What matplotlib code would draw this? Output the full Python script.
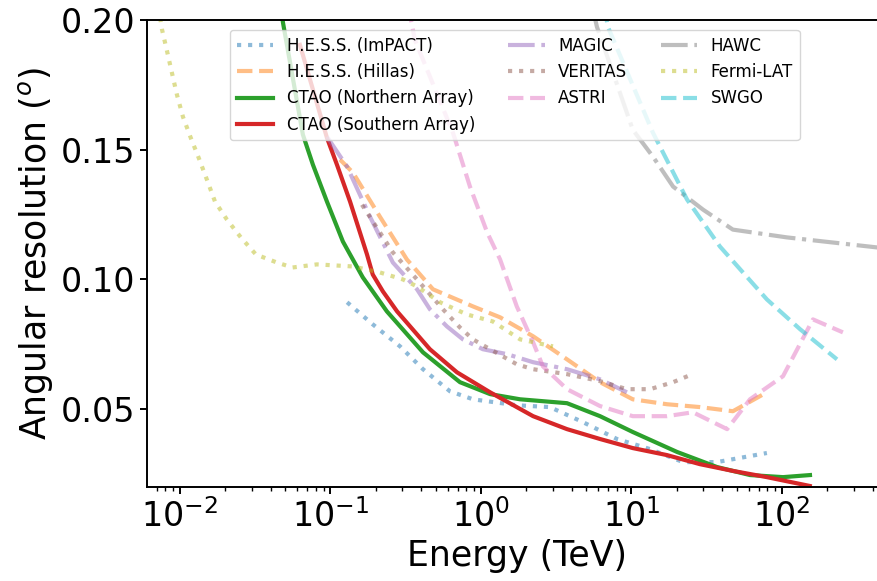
import matplotlib
matplotlib.use("Agg")
import matplotlib.pyplot as plt

# Energy (TeV) and angular resolution (deg) for each instrument
hess_impact_e = [0.129, 0.191, 0.290, 0.412, 0.622, 0.885, 1.73, 2.87, 4.76, 8.01, 13.3, 22.0, 37.0, 79.4]
hess_impact_r = [0.0912, 0.0827, 0.0742, 0.0654, 0.0569, 0.0538, 0.0515, 0.0508, 0.0450, 0.0385, 0.0346, 0.0296, 0.0296, 0.0331]

hess_hillas_e = [0.1157, 0.141, 0.213, 0.322, 0.480, 0.885, 1.34, 2.22, 3.73, 6.18, 10.2, 17.2, 28.5, 47.2, 79.4]
hess_hillas_r = [0.1462, 0.1412, 0.1242, 0.1077, 0.0962, 0.0896, 0.0854, 0.0781, 0.0692, 0.0604, 0.0538, 0.0519, 0.0508, 0.0492, 0.0565]

ctao_north_e = [0.046, 0.0483, 0.0656, 0.0765, 0.0948, 0.121, 0.164, 0.237, 0.412, 0.725, 1.15, 1.82, 3.73, 6.18, 10.2, 20.1, 37.0, 61.3, 101.6, 153.5]
ctao_north_r = [0.210, 0.1992, 0.1558, 0.1442, 0.130, 0.1146, 0.1008, 0.0877, 0.0719, 0.0604, 0.0558, 0.0538, 0.0523, 0.0473, 0.0412, 0.0335, 0.0277, 0.0246, 0.0238, 0.0246]

ctao_south_e = [0.0627, 0.0948, 0.1105, 0.135, 0.175, 0.191, 0.223, 0.277, 0.458, 0.693, 1.15, 2.22, 3.73, 6.18, 10.2, 17.2, 28.5, 47.2, 79.4, 153.0]
ctao_south_r = [0.1904, 0.1546, 0.1442, 0.130, 0.1096, 0.1019, 0.0954, 0.0877, 0.0731, 0.0642, 0.0565, 0.0473, 0.0423, 0.0385, 0.0350, 0.0323, 0.0288, 0.0262, 0.0238, 0.0204]

magic_e = [0.0948, 0.129, 0.183, 0.260, 0.376, 0.458, 0.594, 0.759, 1.03, 1.49, 2.22, 3.73, 6.18, 9.33]
magic_r = [0.155, 0.1435, 0.1242, 0.1065, 0.0962, 0.0885, 0.0819, 0.0769, 0.0731, 0.0712, 0.0681, 0.0654, 0.0615, 0.0565]

veritas_e = [0.162, 0.260, 0.376, 0.559, 0.725, 0.885, 1.15, 1.73, 2.22, 3.73, 6.18, 9.33, 13.3, 18.9, 24.5]
veritas_r = [0.1288, 0.1104, 0.100, 0.0885, 0.0815, 0.0769, 0.0731, 0.0673, 0.0654, 0.0635, 0.0608, 0.0577, 0.0577, 0.0604, 0.0631]

astri_e = [0.33, 0.364, 0.652, 0.845, 1.10, 1.34, 1.73, 2.22, 2.58, 3.73, 6.18, 10.2, 17.2, 25.6, 43.2, 61.3, 101.6, 160.7, 254.0]
astri_r = [0.205, 0.1923, 0.1565, 0.1358, 0.1181, 0.1077, 0.0896, 0.0758, 0.0665, 0.0577, 0.0512, 0.0473, 0.0473, 0.0488, 0.0423, 0.0538, 0.0627, 0.0846, 0.0796]

hawc_e = [5.5, 5.90, 8.39, 10.2, 13.9, 18.9, 29.9, 47.2, 108.0, 434.0, 600.0]
hawc_r = [0.205, 0.1973, 0.1719, 0.1577, 0.1473, 0.1358, 0.1269, 0.1192, 0.1162, 0.1123, 0.1110]

fermi_e = [0.0072, 0.00759, 0.00820, 0.00885, 0.00955, 0.01047, 0.0118, 0.0134, 0.0151, 0.0171, 0.0205, 0.0254,
           0.0320, 0.0442, 0.0560, 0.0813, 0.141, 0.213, 0.303, 0.376, 0.535, 0.807, 1.20, 1.82, 3.01]
fermi_r = [0.205, 0.1965, 0.1881, 0.1796, 0.1712, 0.1627, 0.1546, 0.1465, 0.1385, 0.130, 0.1231, 0.1162,
           0.1096, 0.1065, 0.1046, 0.1058, 0.105, 0.1027, 0.100, 0.0973, 0.0912, 0.0865, 0.0838, 0.0769, 0.0742]

swgo_e = [6.6, 6.98, 13.9, 23.4, 38.7, 79.4, 132.0, 232.0]
swgo_r = [0.205, 0.1973, 0.1565, 0.1308, 0.1127, 0.0923, 0.0808, 0.0692]

fig = plt.figure(figsize=(8.78, 5.81), dpi=100)
ax = fig.add_axes([0.1674, 0.1618, 0.8429, 0.8038])

faint = dict(lw=3, alpha=0.5)
ax.plot(hess_impact_e, hess_impact_r, ':', color='tab:blue', label='H.E.S.S. (ImPACT)', **faint)
ax.plot(hess_hillas_e, hess_hillas_r, '--', color='tab:orange', label='H.E.S.S. (Hillas)', **faint)
ax.plot(ctao_north_e, ctao_north_r, '-', color='tab:green', lw=3, label='CTAO (Northern Array)')
ax.plot(ctao_south_e, ctao_south_r, '-', color='tab:red', lw=3, label='CTAO (Southern Array)')
ax.plot(magic_e, magic_r, '-.', color='tab:purple', label='MAGIC', **faint)
ax.plot(veritas_e, veritas_r, ':', color='tab:brown', label='VERITAS', **faint)
ax.plot(astri_e, astri_r, '--', color='tab:pink', label='ASTRI', **faint)
ax.plot(hawc_e, hawc_r, '-.', color='tab:gray', label='HAWC', **faint)
ax.plot(fermi_e, fermi_r, ':', color='tab:olive', label='Fermi-LAT', **faint)
ax.plot(swgo_e, swgo_r, '--', color='tab:cyan', label='SWGO', **faint)

ax.set_xscale('log')
ax.set_xlim(0.00604, 499)
ax.set_ylim(0.02, 0.20)
ax.set_yticks([0.05, 0.10, 0.15, 0.20])
ax.set_yticklabels(['0.05', '0.10', '0.15', '0.20'])

for s in ax.spines.values():
    s.set_linewidth(1.4)
ax.tick_params(axis='both', which='major', labelsize=24, length=5, width=1.4)
ax.tick_params(axis='x', which='minor', length=3, width=1.0)

ax.set_xlabel('Energy (TeV)', fontsize=25)
ax.set_ylabel(r'Angular resolution ($^o$)', fontsize=25)

ax.legend(ncol=3, fontsize=12, handlelength=2.2, loc='upper left',
          bbox_to_anchor=(230 / 878, 1 - 30 / 581), bbox_transform=fig.transFigure,
          borderaxespad=0)

fig.savefig('out.png', dpi=100)
